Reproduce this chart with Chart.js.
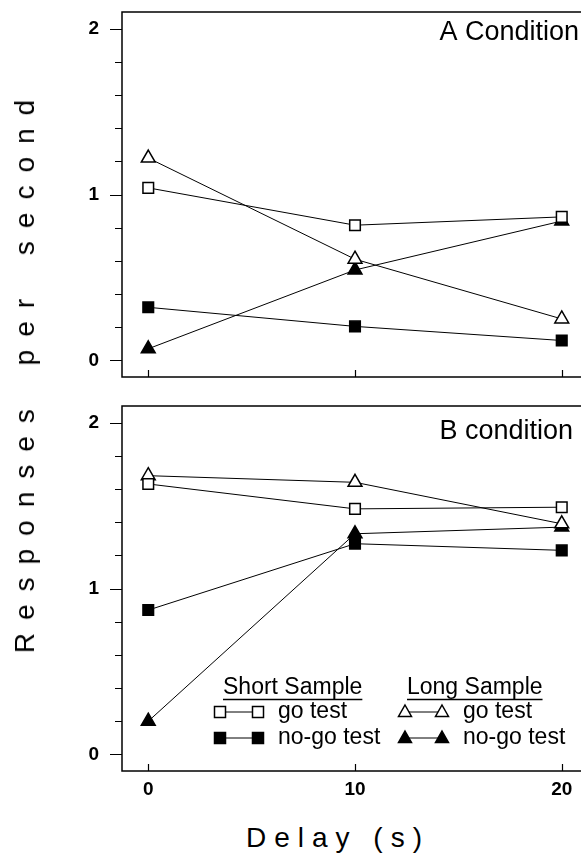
<!DOCTYPE html>
<html lang="en">
<head>
<meta charset="UTF-8">
<title>Responses per second by delay</title>
<script src="https://cdn.jsdelivr.net/npm/chart.js"></script>
<style>
    body {
        margin: 0;
        width: 581px;
        height: 856px;
        overflow: hidden;
        position: relative;
        background: #fff;
        font-family: 'Liberation Sans', Arial, sans-serif;
        color: #000;
    }
    canvas {
        position: absolute;
        left: 0;
    }
    #panelA { top: 0; }
    #panelB { top: 390px; }
    .ytitle {
        position: absolute;
        left: 25px;
        top: 370px;
        transform: translate(-50%, -50%) rotate(-90deg);
        white-space: nowrap;
        font-size: 28px;
        letter-spacing: 13px;
        word-spacing: 10px;
    }
    .xtitle {
        position: absolute;
        left: 338px;
        top: 838px;
        transform: translate(-50%, -50%);
        white-space: nowrap;
        font-size: 28px;
        letter-spacing: 8px;
    }
</style>
</head>
<body>
    <canvas id="panelA" width="600" height="390"></canvas>
    <canvas id="panelB" width="600" height="420"></canvas>
    <div class="ytitle">Responses per second</div>
    <div class="xtitle">Delay (s)</div>

<script>
    // data
    const delays = [0, 10, 20];

    const aShortGo   = [1.04, 0.815, 0.865];
    const aShortNoGo = [0.32, 0.205, 0.12];
    const aLongGo    = [1.22, 0.61, 0.25];
    const aLongNoGo  = [0.07, 0.545, 0.84];

    const bShortGo   = [1.63, 1.48, 1.49];
    const bShortNoGo = [0.87, 1.27, 1.23];
    const bLongGo    = [1.68, 1.64, 1.39];
    const bLongNoGo  = [0.20, 1.33, 1.37];

    const yTickLabels = [0, 1, 2];
    const yMinorTicks = [0, 0.2, 0.4, 0.6, 0.8, 1, 1.2, 1.4, 1.6, 1.8, 2];
    const xTickValues = [0, 10, 20];

    const legendGroups = ['Short Sample', 'Long Sample'];
    const legendRows = ['go test', 'no-go test'];

    const FONT = '"Liberation Sans", Arial, sans-serif';

    function series(label, values, style, filled) {
        return {
            label: label,
            data: delays.map((d, i) => ({ x: d, y: values[i] })),
            borderColor: '#000',
            borderWidth: 1,
            pointStyle: style,
            pointRadius: style === 'triangle' ? 8 : 7.5,
            pointBackgroundColor: filled ? '#000' : '#fff',
            pointBorderColor: '#000',
            pointBorderWidth: 1.5,
            tension: 0,
            fill: false,
            clip: false
        };
    }

    // box, outward y ticks, inward x ticks and the panel name
    const framePlugin = {
        id: 'frame',
        beforeDatasetsDraw(chart) {
            const { ctx, chartArea: a } = chart;
            const x = chart.scales.x, y = chart.scales.y;
            ctx.save();
            ctx.strokeStyle = '#000';
            ctx.lineWidth = 1.5;
            ctx.strokeRect(a.left, a.top, a.right - a.left, a.bottom - a.top);
            ctx.lineWidth = 1.2;
            ctx.beginPath();
            yMinorTicks.forEach(v => {
                const py = Math.round(y.getPixelForValue(v)) + 0.5;
                const len = yTickLabels.includes(v) ? 12 : 7;
                ctx.moveTo(a.left - len, py);
                ctx.lineTo(a.left, py);
            });
            xTickValues.forEach(v => {
                const px = Math.round(x.getPixelForValue(v)) + 0.5;
                ctx.moveTo(px, a.bottom);
                ctx.lineTo(px, a.bottom - 7);
            });
            ctx.stroke();

            const o = chart.options.plugins.frame;
            ctx.font = '27px ' + FONT;
            ctx.fillStyle = '#000';
            ctx.textAlign = 'right';
            ctx.textBaseline = 'middle';
            ctx.fillText(o.label, o.labelX, o.labelY);
            ctx.restore();
        }
    };

    function marker(ctx, style, filled, cx, cy) {
        ctx.beginPath();
        if (style === 'rect') {
            ctx.rect(cx - 5.5, cy - 5.5, 11, 11);
        } else {
            ctx.moveTo(cx, cy - 7);
            ctx.lineTo(cx + 6.5, cy + 4.5);
            ctx.lineTo(cx - 6.5, cy + 4.5);
            ctx.closePath();
        }
        ctx.fillStyle = filled ? '#000' : '#fff';
        ctx.fill();
        ctx.lineWidth = 1.5;
        ctx.stroke();
    }

    // the two-column key inside panel B
    const legendPlugin = {
        id: 'sampleLegend',
        afterDatasetsDraw(chart) {
            const ctx = chart.ctx;
            const top = 390;
            const headerY = 688 - top, rowY = [712 - top, 738 - top];
            const cols = [
                { head: 223, m1: 220, m2: 258, text: 278, style: 'rect' },
                { head: 407, m1: 405, m2: 442, text: 463, style: 'triangle' }
            ];
            ctx.save();
            ctx.font = '23px ' + FONT;
            ctx.textAlign = 'left';
            ctx.textBaseline = 'middle';
            ctx.strokeStyle = '#000';
            legendGroups.forEach((title, gi) => {
                const c = cols[gi];
                ctx.fillStyle = '#000';
                ctx.fillText(title, c.head, headerY);
                const w = ctx.measureText(title).width;
                ctx.lineWidth = 1.5;
                ctx.beginPath();
                ctx.moveTo(c.head, headerY + 11.5);
                ctx.lineTo(c.head + w, headerY + 11.5);
                ctx.stroke();
                legendRows.forEach((row, ri) => {
                    const yy = rowY[ri];
                    ctx.lineWidth = 1;
                    ctx.beginPath();
                    ctx.moveTo(c.m1, yy);
                    ctx.lineTo(c.m2, yy);
                    ctx.stroke();
                    marker(ctx, c.style, ri === 1, c.m1, yy);
                    marker(ctx, c.style, ri === 1, c.m2, yy);
                    ctx.fillStyle = '#000';
                    ctx.fillText(row, c.text, yy);
                });
            });
            ctx.restore();
        }
    };

    function makePanel(id, sets, label, labelX, labelY, showX, pad) {
        return new Chart(document.getElementById(id), {
            type: 'line',
            data: {
                datasets: [
                    series('short go test', sets[0], 'rect', false),
                    series('short no-go test', sets[1], 'rect', true),
                    series('long go test', sets[2], 'triangle', false),
                    series('long no-go test', sets[3], 'triangle', true)
                ]
            },
            options: {
                responsive: false,
                animation: false,
                layout: { padding: pad },
                scales: {
                    x: {
                        type: 'linear',
                        min: -1.27,
                        max: 21.27,
                        display: showX,
                        afterBuildTicks: s => { s.ticks = xTickValues.map(v => ({ value: v })); },
                        afterFit: s => {
                            s.height = showX ? 30 : 0;
                            s.paddingLeft = 0;
                            s.paddingRight = 0;
                        },
                        grid: { display: false, drawTicks: false },
                        border: { display: false },
                        ticks: { padding: 7, color: '#000', font: { family: FONT, size: 19, weight: 'bold' } }
                    },
                    y: {
                        type: 'linear',
                        min: -0.1,
                        max: 2.1,
                        afterBuildTicks: s => { s.ticks = yTickLabels.map(v => ({ value: v })); },
                        afterFit: s => {
                            s.width = 122;
                            s.paddingTop = 0;
                            s.paddingBottom = 0;
                        },
                        grid: { display: false, drawTicks: false },
                        border: { display: false },
                        ticks: { padding: 23, color: '#000', font: { family: FONT, size: 19, weight: 'bold' } }
                    }
                },
                plugins: {
                    legend: { display: false },
                    tooltip: { enabled: false },
                    frame: { label: label, labelX: labelX, labelY: labelY }
                }
            },
            plugins: showX ? [framePlugin, legendPlugin] : [framePlugin]
        });
    }

    makePanel('panelA', [aShortGo, aShortNoGo, aLongGo, aLongNoGo], 'A Condition', 579, 33, false,
        { left: 0, right: 12, top: 12, bottom: 13 });
    makePanel('panelB', [bShortGo, bShortNoGo, bLongGo, bLongNoGo], 'B condition', 573, 42, true,
        { left: 0, right: 12, top: 16, bottom: 9 });
</script>
</body>
</html>
